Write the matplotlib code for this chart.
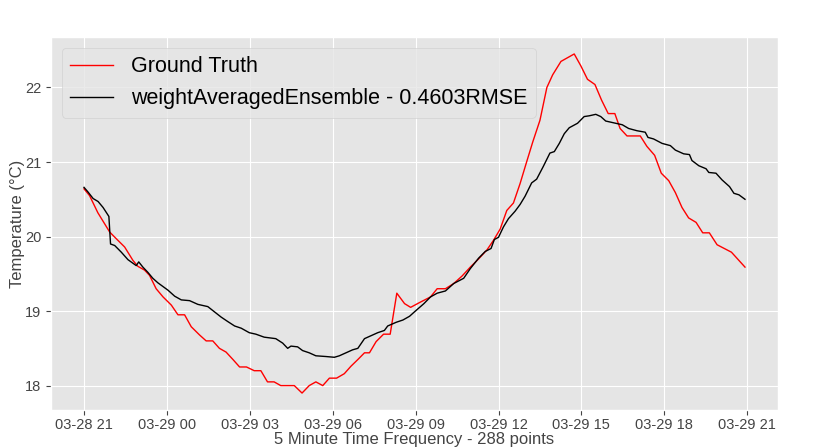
import matplotlib
matplotlib.use('Agg')
import numpy as np
import pandas as pd
import matplotlib.pyplot as plt
import matplotlib.dates as mdates

plt.style.use('ggplot')
plt.rcParams['font.family'] = ['Liberation Sans', 'DejaVu Sans']

start = pd.Timestamp('2019-03-28 21:00')

# Ground truth: hours after start, temperature
truth_hours = [0, 0.2, 0.5, 0.93, 1.17, 1.47, 1.77, 1.95, 2.19, 2.37,
               2.61, 2.86, 3.16, 3.40, 3.64, 3.88, 4.18, 4.42, 4.66, 4.90,
               5.14, 5.39, 5.63, 5.88, 6.16, 6.40, 6.64, 6.88, 7.12, 7.61,
               7.89, 8.15, 8.39, 8.64, 8.88, 9.14, 9.42, 9.66, 9.91, 10.15,
               10.33, 10.57, 10.84, 11.08, 11.32, 11.60, 11.82, 12.12, 12.54, 12.78,
               13.08, 13.38, 13.68, 13.98, 14.28, 14.58, 14.82, 15.06, 15.30, 15.54,
               15.78, 16.0, 16.24, 16.50, 16.75, 16.96, 17.26, 17.74, 17.98, 18.22,
               18.49, 18.73, 18.97, 19.21, 19.40, 19.65, 20.13, 20.37, 20.65, 20.89,
               21.16, 21.40, 21.64, 21.88, 22.15, 22.39, 22.63, 22.91, 23.43, 23.92]
truth_temp = [20.64, 20.55, 20.32, 20.06, 19.97, 19.86, 19.68, 19.60, 19.55, 19.48,
              19.30, 19.19, 19.08, 18.95, 18.95, 18.79, 18.68, 18.60, 18.60, 18.50,
              18.45, 18.35, 18.25, 18.25, 18.20, 18.20, 18.05, 18.05, 18.00, 18.00,
              17.90, 18.00, 18.05, 18.00, 18.10, 18.10, 18.16, 18.26, 18.35, 18.44,
              18.44, 18.59, 18.69, 18.69, 19.24, 19.10, 19.05, 19.11, 19.19, 19.30,
              19.30, 19.37, 19.47, 19.59, 19.70, 19.82, 19.95, 20.10, 20.35, 20.45,
              20.71, 20.98, 21.27, 21.56, 22.00, 22.17, 22.35, 22.45, 22.29, 22.11,
              22.04, 21.83, 21.65, 21.65, 21.45, 21.35, 21.35, 21.21, 21.09, 20.85,
              20.75, 20.59, 20.39, 20.25, 20.19, 20.05, 20.05, 19.89, 19.79, 19.59]

# weight averaged ensemble prediction
ens_hours = [0, 0.14, 0.33, 0.51, 0.69, 0.90, 0.96, 1.11, 1.35, 1.59,
             1.89, 1.98, 2.13, 2.31, 2.49, 2.67, 3.04, 3.28, 3.52, 3.82,
             4.12, 4.48, 4.72, 4.96, 5.20, 5.45, 5.69, 5.98, 6.22, 6.52,
             6.94, 7.19, 7.37, 7.49, 7.73, 7.91, 8.15, 8.39, 8.76, 9.06,
             9.24, 9.48, 9.72, 9.91, 10.15, 10.39, 10.63, 10.87, 10.99, 11.30,
             11.54, 11.78, 11.96, 12.30, 12.54, 12.78, 13.08, 13.38, 13.74, 13.98,
             14.28, 14.52, 14.73, 14.85, 15.0, 15.18, 15.36, 15.60, 15.78, 15.96,
             16.20, 16.38, 16.62, 16.86, 17.02, 17.20, 17.38, 17.56, 17.86, 18.10,
             18.28, 18.52, 18.70, 18.88, 19.24, 19.48, 19.71, 20.01, 20.31, 20.41,
             20.61, 20.92, 21.22, 21.40, 21.70, 21.91, 22.0, 22.25, 22.51, 22.61,
             22.87, 23.09, 23.36, 23.52, 23.70, 23.92]
ens_temp = [20.66, 20.60, 20.51, 20.47, 20.39, 20.27, 19.90, 19.88, 19.79, 19.69,
            19.61, 19.66, 19.59, 19.52, 19.44, 19.38, 19.28, 19.20, 19.15, 19.14,
            19.09, 19.06, 18.99, 18.92, 18.86, 18.80, 18.77, 18.71, 18.69, 18.65,
            18.63, 18.57, 18.50, 18.53, 18.52, 18.47, 18.44, 18.40, 18.39, 18.38,
            18.40, 18.44, 18.48, 18.50, 18.63, 18.67, 18.71, 18.74, 18.80, 18.85,
            18.88, 18.93, 18.99, 19.10, 19.19, 19.24, 19.27, 19.37, 19.44, 19.57,
            19.71, 19.80, 19.84, 19.96, 19.99, 20.13, 20.24, 20.34, 20.43, 20.54,
            20.72, 20.77, 20.94, 21.12, 21.14, 21.25, 21.38, 21.46, 21.52, 21.61,
            21.62, 21.64, 21.61, 21.55, 21.52, 21.50, 21.45, 21.42, 21.40, 21.33,
            21.31, 21.25, 21.22, 21.16, 21.11, 21.10, 21.02, 20.95, 20.91, 20.86,
            20.85, 20.76, 20.67, 20.58, 20.56, 20.50]

truth_t = start + pd.to_timedelta(truth_hours, unit='h')
ens_t = start + pd.to_timedelta(ens_hours, unit='h')

fig = plt.figure(figsize=(8.3, 4.48), dpi=100)
ax = fig.add_axes([0.0614, 0.0848, 0.876, 0.8326])

ax.plot(truth_t, truth_temp, color='red', linewidth=1.0, label='Ground Truth')
ax.plot(ens_t, ens_temp, color='black', linewidth=1.0,
        label='weightAveragedEnsemble - 0.4603RMSE')

ax.xaxis.set_major_locator(mdates.HourLocator(byhour=range(0, 24, 3)))
ax.xaxis.set_major_formatter(mdates.DateFormatter('%m-%d %H'))
ax.set_yticks([18, 19, 20, 21, 22])
ax.tick_params(labelsize=10.5, colors='#444444')
ax.tick_params(axis='x', pad=2.5)

ax.set_ylabel('Temperature (°C)', fontsize=12, color='#444444', labelpad=0)
ax.set_xlabel('5 Minute Time Frequency - 288 points', fontsize=12,
              color='#444444', labelpad=0)

ax.legend(loc='upper left', fontsize=15.5, handlelength=2.0)

fig.savefig('out.png', dpi=100)
